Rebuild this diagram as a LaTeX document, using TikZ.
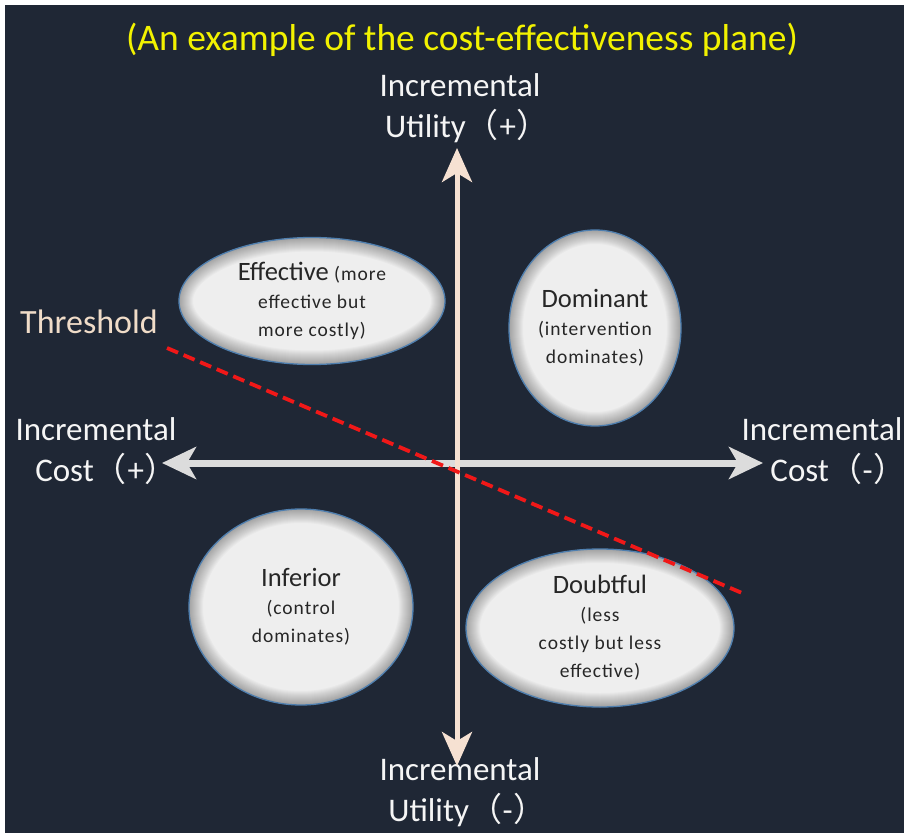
\documentclass[tikz,border=0pt]{standalone}
\usepackage{fontspec}
\setmainfont{Carlito}
\newfontfamily\cjk{Noto Sans CJK SC}
\newfontfamily\spacedfont[LetterSpace=5]{Carlito}
\usetikzlibrary{arrows.meta,shapes.geometric}
\definecolor{bgnavy}{HTML}{1F2735}
\definecolor{titleyellow}{HTML}{F2F200}
\definecolor{peach}{HTML}{F6E1D2}
\definecolor{axisgray}{HTML}{DCDCDC}
\definecolor{blobfill}{HTML}{EEEEEE}
\definecolor{blobedge}{HTML}{4F7FAF}
\definecolor{thred}{HTML}{F01818}
\definecolor{threshtext}{HTML}{F0DCC8}
\newcommand{\blobtitle}{\fontsize{26.5}{28}\selectfont\normalfont}
\newcommand{\fwp}[1]{{\cjk （}\kern0.02em#1\kern0.02em{\cjk ）}\kern-0.45em}
\tikzset{
  blob/.style n args={2}{ellipse, minimum width=#1, minimum height=#2, inner sep=0pt,
    fill=blobfill, draw=blobedge, line width=1.3pt, align=center, text=black!85,
    font=\spacedfont\fontsize{19.5}{28}\selectfont,
    path picture={
      \foreach \w in {2,4,...,28}
        \draw[black, line width=\w pt, opacity=0.022] (path picture bounding box.center) ellipse [x radius=#1/2, y radius=#2/2];
    }},
  axlabel/.style={text=white!96!black, font=\fontsize{33}{41}\selectfont, align=center, inner sep=0pt},
  vaxis/.style={peach, line width=5pt, {Stealth[length=34pt,width=30pt,inset=9pt]}-{Stealth[length=34pt,width=30pt,inset=9pt]}},
  haxis/.style={axisgray, line width=7pt, {Stealth[length=34pt,width=32pt,inset=9pt]}-{Stealth[length=34pt,width=32pt,inset=9pt]}},
  threshline/.style={thred, line width=3.8pt, dash pattern=on 12pt off 6pt},
}
\begin{document}
\begin{tikzpicture}[x=1pt,y=-1pt]
\useasboundingbox (0,0) rectangle (908,837);
\fill[white] (0,0) rectangle (908,837);
\fill[bgnavy] (5,5) rectangle (904,833);

\node[text=titleyellow, font=\fontsize{37.5}{40}\selectfont, inner sep=0pt] (title) at (462,40) {(An example of the cost-effectiveness plane)};

% axis labels
\node[axlabel] (utop) at (460,108) {Incremental\\Utility\fwp{+}};
\node[axlabel] (ubot) at (460,792) {Incremental\\Utility\fwp{-}};
\node[axlabel] (cleft) at (96,451) {Incremental\\\kern6pt Cost\fwp{+}};
\node[axlabel] (cright) at (822,451) {Incremental\\\kern18pt Cost\fwp{-}};

% axes
\coordinate (ytop) at (457,148);
\coordinate (ybot) at (457,766);
\coordinate (xl) at (162,463);
\coordinate (xr) at (763,463);
\draw[haxis] (xl) -- (xr);
\draw[vaxis] (ytop) -- (ybot);

% blobs
\node[blob={266pt}{127pt}] (effective) at (312,301) {{\blobtitle Effective} (more\\effective but\\more costly)};
\node[blob={172pt}{196pt}] (dominant) at (595,328) {{\blobtitle Dominant}\\(intervention\\dominates)};
\node[blob={224pt}{196pt}] (inferior) at (301,607) {{\blobtitle Inferior}\\(control\\dominates)};
\node[blob={268pt}{158pt}] (doubtful) at (600,628) {{\blobtitle Doubtful}\\(less\\costly but less\\effective)};

% threshold
\node[text=threshtext, font=\fontsize{34}{36}\selectfont, inner sep=0pt] (thlabel) at (89,322) {Threshold};
\coordinate (t1) at (167,348);
\coordinate (t2) at (742,593);
\draw[threshline] (t1) -- (t2);
\end{tikzpicture}
\end{document}
